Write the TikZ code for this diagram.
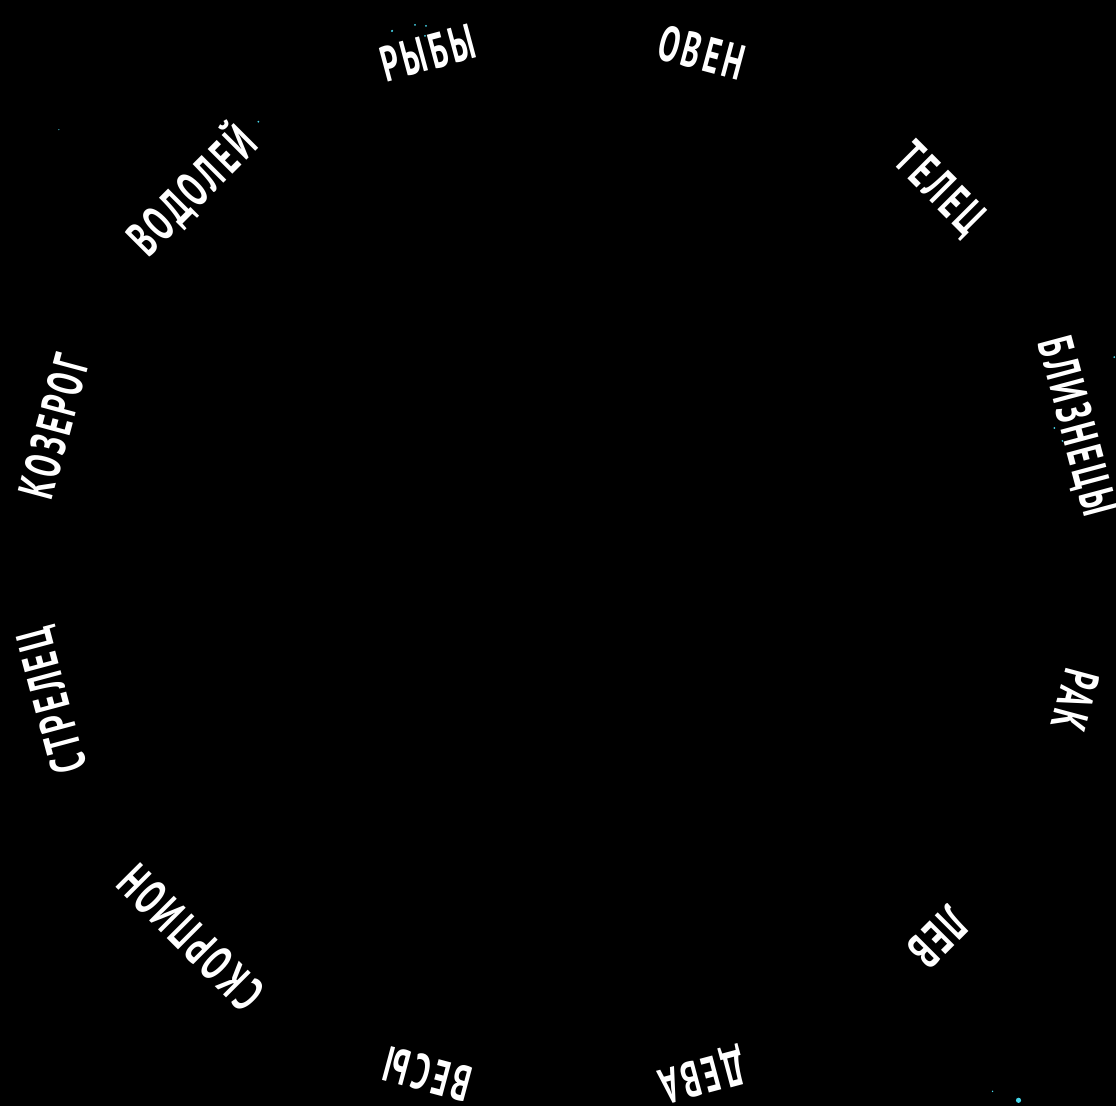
\documentclass[tikz,border=0pt]{standalone}
\usepackage{fontspec}
\setmainfont{PT Sans}[LetterSpace=12]
\definecolor{star}{RGB}{70,215,235}
\tikzset{
  sign/.style={text=white, inner sep=0pt, font=\fontsize{50}{50}\selectfont\bfseries},
}
\begin{document}
\begin{tikzpicture}[x=1pt,y=1pt]
  \fill[black] (0,0) rectangle (1119,1109);
  \coordinate (c) at (566,544);
  % signs round the circle
  \foreach \name [count=\i] in {ОВЕН,ТЕЛЕЦ,БЛИЗНЕЦЫ,РАК,ЛЕВ,ДЕВА,ВЕСЫ,СКОРПИОН,СТРЕЛЕЦ,КОЗЕРОГ,ВОДОЛЕЙ,РЫБЫ}{
    \pgfmathsetmacro\a{75-30*(\i-1)}
    \node[sign, rotate=\a-90] (s\i) at ([shift={(\a:530)}]c) {\scalebox{0.62}[1]{\name}};
  }
  % stars
  \foreach \x/\y/\r in {393/1078/1.2, 416/1084/1, 427/1083/1, 426/1073/1, 259/987/1,
      1117/751/1, 1057/680/1, 1065/667/1, 995/15/0.8, 1021/6/2.6, 59/979/0.6}
    \fill[star] (\x,\y) circle (\r);
\end{tikzpicture}
\end{document}
